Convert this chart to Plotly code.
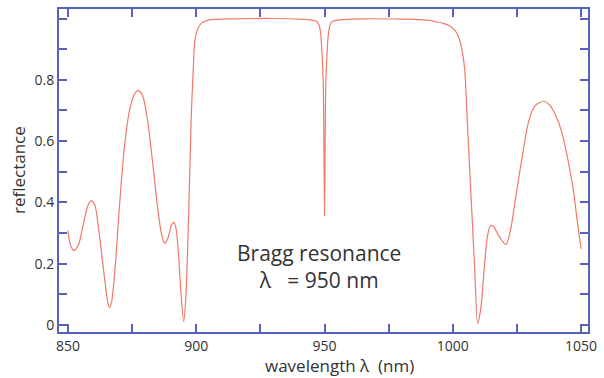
import plotly.graph_objects as go

wavelength = [850, 851, 852.3, 854, 856, 858, 859.1, 860.5, 862, 864, 865.5, 866.2, 867, 868.5,
              870, 872, 874, 876, 877.3, 879, 881, 883, 885, 886.5, 887.7, 889, 890.3, 891.2,
              892, 893, 894, 895.1, 896, 897, 898, 898.8, 899.5, 900.5, 902, 904, 907, 915,
              930, 940, 945, 947, 947.5, 948, 948.5, 949, 949.5, 949.75, 950, 950.25, 950.5,
              951, 951.5, 952, 952.5, 953, 955, 965, 980, 990, 993, 996, 999, 1001, 1002.5, 1003.5,
              1004.6, 1005.9, 1007.2, 1008.5, 1009.7, 1011, 1012.3, 1013.5, 1014.8, 1016, 1018,
              1020.7, 1022.5, 1024.5, 1027, 1029.6, 1032, 1035.6, 1038, 1040, 1042.4, 1044, 1045.7,
              1047, 1048.5, 1050]
reflectance = [0.308, 0.26, 0.243, 0.26, 0.33, 0.395, 0.405, 0.39, 0.31, 0.17, 0.075, 0.057, 0.075, 0.2,
               0.38, 0.58, 0.70, 0.755, 0.765, 0.75, 0.67, 0.53, 0.38, 0.295, 0.267, 0.285, 0.325, 0.335,
               0.32, 0.24, 0.11, 0.011, 0.1, 0.35, 0.665, 0.83, 0.93, 0.965, 0.985, 0.993, 0.997, 0.999,
               1.0, 0.998, 0.995, 0.99, 0.985, 0.975, 0.95, 0.89, 0.79, 0.6, 0.357, 0.6, 0.79,
               0.89, 0.95, 0.975, 0.985, 0.99, 0.995, 0.999, 0.998, 0.995, 0.99, 0.985, 0.975, 0.96, 0.935, 0.9,
               0.838, 0.62, 0.405, 0.19, 0.005, 0.06, 0.19, 0.29, 0.325, 0.32, 0.29,
               0.262, 0.31, 0.416, 0.546, 0.665, 0.715, 0.73, 0.715, 0.685, 0.632, 0.575, 0.503,
               0.44, 0.34, 0.249]

x_ticks = [850, 900, 950, 1000, 1050]
y_ticks = [0, 0.2, 0.4, 0.6, 0.8]
y_tick_text = ["0", "0.2", "0.4", "0.6", "0.8"]

frame = "#5560b8"
font = "Open Sans, Noto Sans, sans-serif"

fig = go.Figure()
fig.add_trace(go.Scatter(x=wavelength, y=reflectance, mode="lines",
                         line=dict(color="#f07a6a", width=1.2, shape="spline", smoothing=0.8),
                         hoverinfo="skip"))

fig.update_layout(
    width=604, height=378,
    margin=dict(l=59, r=9, t=7, b=46),
    paper_bgcolor="white", plot_bgcolor="white",
    showlegend=False,
    font=dict(family=font, color="#333333", size=14),
)
fig.update_xaxes(range=[846.5, 1052.7], tickvals=x_ticks, ticks="inside", ticklen=8, tickwidth=1.5,
                 tickcolor=frame, showline=True, linecolor=frame, linewidth=2, mirror="ticks",
                 showgrid=False, zeroline=False, tickfont=dict(size=14, family=font, color="#333333"),
                 minor=dict(dtick=25, tick0=850, ticks="inside", ticklen=8, tickwidth=1.5, tickcolor=frame, showgrid=False))
fig.update_yaxes(range=[-0.0227, 1.031], tickvals=y_ticks, ticktext=y_tick_text, ticks="inside", ticklen=8,
                 tickwidth=1.5, tickcolor=frame, showline=True, linecolor=frame, linewidth=2, mirror="ticks",
                 showgrid=False, zeroline=False, tickfont=dict(size=14, family=font, color="#333333"),
                 minor=dict(dtick=0.1, tick0=0, ticks="inside", ticklen=8, tickwidth=1.5, tickcolor=frame, showgrid=False))

fig.add_annotation(text="wavelength λ  (nm)", xref="paper", yref="paper", x=(343-59)/536, y=(332-366)/325,
                   showarrow=False, font=dict(size=17, family=font, color="#333333"), xanchor="center", yanchor="middle")
fig.add_annotation(text="reflectance", xref="paper", yref="paper", x=(18-59)/536, y=0.5, textangle=-90,
                   showarrow=False, font=dict(size=17, family=font, color="#333333"), xanchor="center", yanchor="middle")
fig.add_annotation(text="Bragg resonance<br>λ   = 950 nm", xref="paper", yref="paper",
                   x=(322-59)/536, y=(332-266)/325, showarrow=False, align="center",
                   font=dict(size=21, family=font, color="#333333"), xanchor="center", yanchor="middle")

fig.write_html("out.html")
